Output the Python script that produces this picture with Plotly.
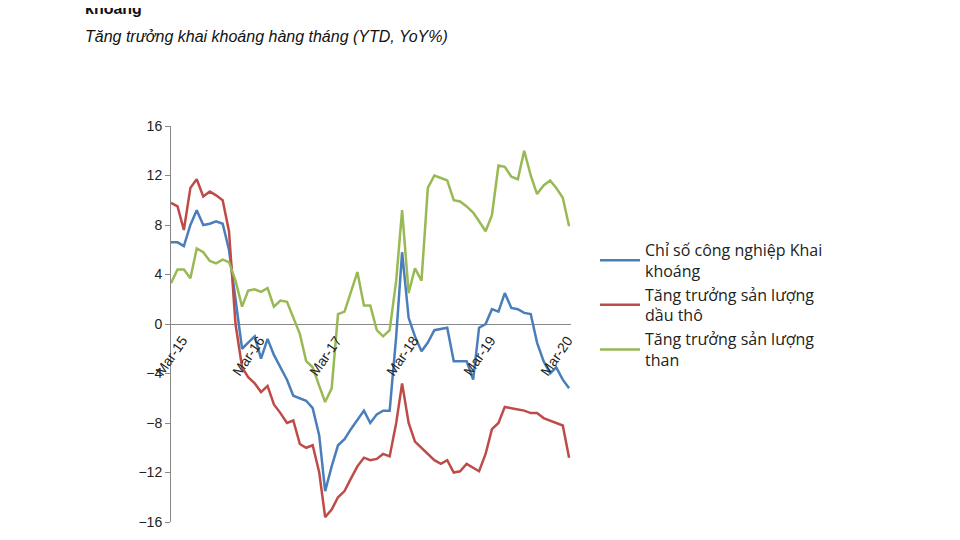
import pandas as pd
import plotly.graph_objects as go

# monthly, Mar-2015 .. May-2020
months = pd.date_range("2015-03-01", "2020-05-01", freq="MS")

tick_dates = ["2015-03-01", "2016-03-01", "2017-03-01", "2018-03-01", "2019-03-01", "2020-03-01"]
tick_labels = ["Mar-15", "Mar-16", "Mar-17", "Mar-18", "Mar-19", "Mar-20"]

khai_khoang = [6.6, 6.6, 6.3, 8.0, 9.2, 8.0, 8.1, 8.3, 8.1, 6.0,
               2.0, -2.0, -1.5, -1.0, -2.8, -1.2, -2.5, -3.5, -4.5, -5.8,
               -6.0, -6.2, -6.8, -9.0, -13.5, -11.5, -9.8, -9.3, -8.5, -7.8,
               -7.0, -8.0, -7.3, -7.0, -7.0, -1.0, 5.8, 0.5, -1.0, -2.2,
               -1.5, -0.5, -0.4, -0.3, -3.0, -3.0, -3.0, -4.5, -0.3, 0.0,
               1.2, 1.0, 2.5, 1.3, 1.2, 0.9, 0.8, -1.5, -3.0, -4.0,
               -3.5, -4.5, -5.2]
dau_tho = [9.8, 9.5, 7.6, 11.0, 11.7, 10.3, 10.7, 10.4, 10.0, 7.5,
           0.0, -3.5, -4.3, -4.8, -5.5, -5.0, -6.5, -7.2, -8.0, -7.8,
           -9.7, -10.0, -9.8, -12.0, -15.6, -15.0, -14.0, -13.5, -12.5, -11.5,
           -10.8, -11.0, -10.9, -10.5, -10.7, -8.0, -4.8, -8.0, -9.5, -10.0,
           -10.5, -11.0, -11.3, -11.0, -12.0, -11.9, -11.3, -11.6, -11.9, -10.5,
           -8.5, -8.0, -6.7, -6.8, -6.9, -7.0, -7.2, -7.2, -7.6, -7.8,
           -8.0, -8.2, -10.8]
than = [3.3, 4.4, 4.4, 3.7, 6.1, 5.8, 5.1, 4.9, 5.2, 5.0,
        3.5, 1.4, 2.7, 2.8, 2.6, 2.9, 1.4, 1.9, 1.8, 0.5,
        -0.8, -3.0, -3.5, -5.0, -6.3, -5.2, 0.8, 1.0, 2.5, 4.2,
        1.5, 1.5, -0.5, -1.0, -0.5, 3.5, 9.2, 2.5, 4.5, 3.5,
        11.0, 12.0, 11.8, 11.6, 10.0, 9.9, 9.5, 9.0, 8.3, 7.5,
        8.8, 12.8, 12.7, 11.9, 11.7, 14.0, 12.0, 10.5, 11.2, 11.6,
        11.0, 10.2, 7.9]

series = [
    ("Chỉ số công nghiệp Khai<br>khoáng", khai_khoang, "#4a7ebb"),
    ("Tăng trưởng sản lượng<br>dầu thô", dau_tho, "#be4b48"),
    ("Tăng trưởng sản lượng<br>than", than, "#98b954"),
]

fig = go.Figure()
for name, vals, color in series:
    fig.add_trace(go.Scatter(x=months, y=vals, name=name, mode="lines",
                             line=dict(color=color, width=2.5)))

# Excel-style category labels hanging from the zero line
for d, lab in zip(tick_dates, tick_labels):
    fig.add_annotation(x=d, y=0, text=lab, showarrow=False, textangle=-55,
                       xanchor="center", yanchor="top", yshift=-6,
                       font=dict(size=14, color="#222"))

fig.update_xaxes(showticklabels=False, showgrid=False, showline=False,
                 range=["2015-03-01", "2020-05-10"])
fig.update_yaxes(range=[-16, 16], tickvals=list(range(-16, 17, 4)),
                 showgrid=False, showline=True, linecolor="#888", linewidth=1,
                 ticks="outside", ticklen=5, tickcolor="#888",
                 zeroline=True, zerolinecolor="#888", zerolinewidth=1,
                 tickfont=dict(size=14, color="#222"))

fig.update_layout(
    width=960, height=540,
    paper_bgcolor="white", plot_bgcolor="white",
    font=dict(family="Liberation Sans, Arial, sans-serif"),
    margin=dict(l=163, r=397, t=118, b=26),
    showlegend=True,
    legend=dict(x=1.06, y=0.73, xanchor="left", yanchor="top",
                font=dict(size=16, color="#222", family="Open Sans, sans-serif"),
                tracegroupgap=8, itemwidth=40),
    annotations=list(fig.layout.annotations) + [
        dict(xref="paper", yref="paper", x=-0.22, y=1.27, xanchor="left", yanchor="bottom",
             showarrow=False, align="left",
             text="<b>Giá dầu và sự sụt giảm khai thác dầu thô chắc chắn sẽ kéo giảm sâu ngành Khai<br>khoáng</b>",
             font=dict(size=16, color="#111")),
        dict(xref="paper", yref="paper", x=-0.22, y=1.2, xanchor="left", yanchor="bottom",
             showarrow=False, text="<i>Tăng trưởng khai khoáng hàng tháng (YTD, YoY%)</i>",
             font=dict(size=16, color="#111")),
    ],
)

fig.write_html("out.html")
